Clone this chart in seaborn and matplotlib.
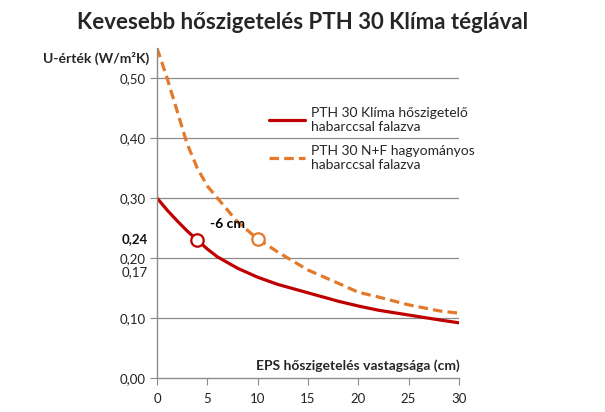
import matplotlib
matplotlib.use("Agg")
import matplotlib.pyplot as plt
import seaborn as sns
import pandas as pd

# EPS thickness (cm) and U-values
x_klima = [0, 1, 2, 3, 4, 5, 6, 8, 10, 12, 15, 18, 20, 22, 25, 28, 30]
u_klima = [0.300, 0.280, 0.262, 0.245, 0.230, 0.215, 0.202, 0.183, 0.168,
           0.156, 0.142, 0.128, 0.120, 0.113, 0.105, 0.097, 0.092]
x_nf = [0, 1, 2, 3, 4, 5, 6, 8, 10, 12, 15, 18, 20, 22, 25, 28, 30]
u_nf = [0.550, 0.500, 0.445, 0.390, 0.350, 0.320, 0.300, 0.260, 0.232,
        0.210, 0.180, 0.158, 0.143, 0.135, 0.122, 0.112, 0.108]

# highlighted points
mark_x = [4, 10]
mark_u = [0.230, 0.232]

label_klima = "PTH 30 Klíma hőszigetelő\nhabarccsal falazva"
label_nf = "PTH 30 N+F hagyományos\nhabarccsal falazva"

red = "#C00000"
orange = "#E3792B"
grey = "#8C8C8C"

sns.set_style("white")
plt.rcParams["font.family"] = ["Lato", "DejaVu Sans"]

fig = plt.figure(figsize=(6.05, 4.12), dpi=100)
ax = fig.add_axes([0.2595, 0.0825, 0.499, 0.801])

df_k = pd.DataFrame({"x": x_klima, "u": u_klima})
df_n = pd.DataFrame({"x": x_nf, "u": u_nf})

sns.lineplot(data=df_k, x="x", y="u", ax=ax, color=red, linewidth=2.3,
             label=label_klima)
sns.lineplot(data=df_n, x="x", y="u", ax=ax, color=orange, linewidth=2.3,
             linestyle=(0, (3, 1.6)), label=label_nf)

ax.scatter(mark_x[:1], mark_u[:1], s=80, facecolor="white", edgecolor=red,
           linewidth=1.6, zorder=5)
ax.scatter(mark_x[1:], mark_u[1:], s=80, facecolor="white", edgecolor=orange,
           linewidth=1.6, zorder=5)

ax.set_xlim(0, 30)
ax.set_ylim(0, 0.55)
ax.set_xticks([0, 5, 10, 15, 20, 25, 30])
ax.set_yticks([0.0, 0.1, 0.2, 0.3, 0.4, 0.5])
ax.set_yticklabels(["0,00", "0,10", "0,20", "0,30", "0,40", "0,50"])
for y in [0.1, 0.2, 0.3, 0.4, 0.5]:
    ax.axhline(y, color=grey, linewidth=0.9, zorder=0)

for side in ["top", "right"]:
    ax.spines[side].set_visible(False)
for side in ["left", "bottom"]:
    ax.spines[side].set_color(grey)
    ax.spines[side].set_linewidth(1.0)
ax.tick_params(axis="both", which="both", length=5, color=grey, direction="out",
               labelsize=9.5, labelcolor="#222222", pad=3,
               left=True, bottom=True)
ax.tick_params(axis="x", pad=6)
ax.set_xlabel("")
ax.set_ylabel("")

# extra y labels
ax.text(-0.9, 0.232, "0,24", ha="right", va="center", fontsize=9.5,
        fontweight="bold", color="#111111", transform=ax.transData)
ax.text(-0.9, 0.177, "0,17", ha="right", va="center", fontsize=9.5,
        color="#222222", transform=ax.transData)

ax.text(5.3, 0.25, "-6 cm", fontsize=10, fontweight="bold", color="black")

fig.text(0.5, 0.945, "Kevesebb hőszigetelés PTH 30 Klíma téglával",
         ha="center", va="center", fontsize=16, fontweight="bold")
fig.text(0.071, 0.858, "U-érték (W/m²K)", ha="left", va="center",
         fontsize=10, fontweight="bold")
fig.text(0.76, 0.112, "EPS hőszigetelés vastagsága (cm)", ha="right",
         va="center", fontsize=10, fontweight="bold")

leg = ax.legend(loc="upper left", bbox_to_anchor=(0.33, 0.86), frameon=False,
                fontsize=10, handlelength=2.6, labelspacing=0.9,
                handletextpad=0.4)

fig.savefig("out.png", dpi=100)
